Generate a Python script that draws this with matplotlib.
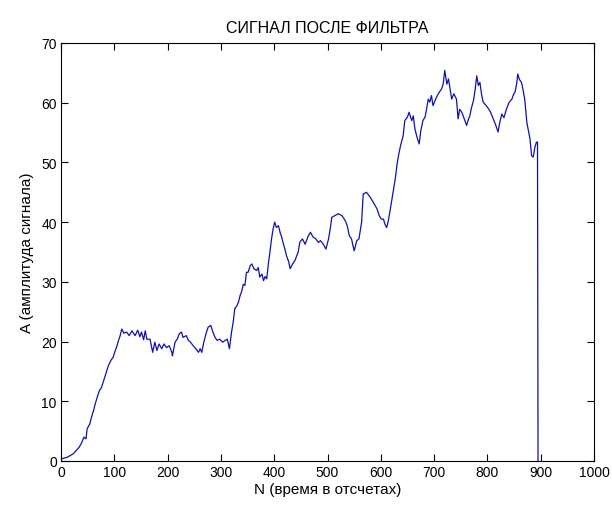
import matplotlib
matplotlib.use("Agg")
import matplotlib.pyplot as plt

plt.rcParams['font.family'] = ['Liberation Sans', 'DejaVu Sans']

# Filtered signal: sample index and amplitude
n_samples = [
    0, 6, 11, 17, 23, 28, 34, 39, 43, 47, 49, 54, 58, 61, 64, 68, 72, 76, 81,
    84, 89, 94, 98, 101, 104, 108, 111, 114,
    118, 123, 128, 133, 139, 144, 148, 151, 155, 158, 161,
    167, 172, 176, 180, 184, 189, 193, 198, 203, 208, 209, 214, 218, 222, 226,
    229, 235, 239, 243, 248, 253, 258, 261, 264, 268, 272, 276, 281, 285, 289,
    293, 298, 303, 308, 312, 316, 320, 323, 326,
    330, 333, 336, 339, 342, 345, 348, 351, 355, 358, 362, 367, 370, 373, 377,
    380, 383, 386, 389, 392, 395, 398, 401, 404, 408, 411, 414, 417, 420, 423,
    427, 430,
    434, 439, 445, 448, 453, 458, 464, 468, 473, 478, 483, 487, 492, 497, 502,
    506, 508, 514, 520, 527, 533, 537, 541, 545, 550, 555, 559, 564, 567, 573,
    580, 586, 593, 597,
    601, 605, 608, 611, 614, 617, 620, 623, 627, 631, 634,
    637, 642, 645, 650, 653, 658, 661, 664, 668, 672, 675, 679, 683, 686, 689,
    692, 695, 698, 702, 706, 710, 714, 717, 720, 724, 727, 730, 733, 737, 742,
    745,
    748, 752, 756, 761, 764, 767, 770, 774, 777, 780, 783, 786, 789, 792, 797,
    802, 806, 811, 815, 820, 823, 827, 831, 836, 841, 846, 849, 852, 855, 857,
    860, 864, 867, 870, 874, 877, 880, 883, 886, 889, 892, 894, 895,
]
amplitude = [
    0.3, 0.5, 0.6, 0.9, 1.2, 1.7, 2.3, 3.1, 4.0, 3.7, 5.4, 6.2, 7.6, 8.4, 9.5,
    10.7, 11.8, 12.3, 13.7, 14.6, 16.0, 16.9, 17.4, 18.3, 19.0, 20.2, 21.0, 22.1,
    21.4, 21.6, 21.0, 21.8, 21.0, 21.9, 20.8, 21.6, 20.3, 21.8, 20.4,
    20.4, 18.2, 19.9, 18.5, 19.6, 18.8, 19.6, 19.0, 19.3, 18.2, 17.6, 19.9, 20.4,
    21.3, 21.6, 20.7, 21.0, 20.2, 19.9, 19.3, 18.8, 18.2, 18.8, 18.2, 19.9, 21.3,
    22.4, 22.7, 21.6, 20.7, 20.2, 20.4, 19.9, 20.2, 20.4, 18.8, 21.6, 23.2, 25.5,
    26.0, 26.6, 27.7, 28.4, 29.6, 29.4, 31.6, 31.6, 32.7, 33.0, 32.2, 31.9, 32.4,
    30.8, 31.3, 30.2, 30.9, 30.5, 33.0, 35.0, 37.2, 38.9, 40.0, 39.1, 39.4, 38.3,
    37.5, 36.4, 35.5, 34.4, 33.4, 32.2,
    32.9, 33.6, 35.0, 36.6, 37.2, 36.3, 37.7, 38.3, 37.5, 37.2, 36.6, 36.9, 36.3,
    35.5, 37.2, 39.4, 40.8, 41.1, 41.4, 41.1, 40.3, 39.4, 37.7, 37.2, 35.2, 36.9,
    37.2, 40.0, 44.7, 45.0, 44.2, 43.3, 42.2, 41.1,
    40.5, 40.5, 39.6, 39.1, 40.2, 41.7, 43.4, 45.0, 47.2, 50.0, 51.5,
    52.8, 54.5, 57.0, 57.6, 58.4, 57.0, 57.8, 55.6, 54.2, 53.1, 55.3, 57.0, 57.6,
    59.0, 60.6, 60.1, 61.2, 59.5, 60.4, 61.2, 61.8, 62.3, 63.1, 65.4, 63.1, 64.0,
    62.3, 60.6, 61.5, 60.6, 57.3,
    58.9, 58.4, 57.4, 56.2, 57.1, 57.8, 59.1, 60.4, 62.2, 64.5, 62.9, 63.4, 61.4,
    60.1, 59.6, 59.0, 58.4, 57.3, 56.4, 55.1, 56.6, 58.1, 57.5, 59.0, 60.1, 60.6,
    61.4, 61.8, 63.2, 64.8, 63.9, 63.4, 62.1, 60.6, 56.7, 55.3, 53.9, 51.1, 50.9,
    52.5, 53.4, 53.4, 0.0,
]

x_ticks = [0, 100, 200, 300, 400, 500, 600, 700, 800, 900, 1000]
y_ticks = [0, 10, 20, 30, 40, 50, 60, 70]

fig = plt.figure(figsize=(6.12, 5.06), dpi=100)
ax = fig.add_axes([61 / 612, 44 / 506, 533 / 612, 418 / 506])

ax.plot(n_samples, amplitude, color='#1010b0', linewidth=0.9)

ax.set_xlim(0, 1000)
ax.set_ylim(0, 70)
ax.set_xticks(x_ticks)
ax.set_yticks(y_ticks)
ax.tick_params(direction='in', top=True, right=True, length=5, width=0.8,
               labelsize=10, pad=3)
for spine in ax.spines.values():
    spine.set_linewidth(0.8)

ax.set_title('СИГНАЛ ПОСЛЕ ФИЛЬТРА', fontsize=11.5, pad=8)
ax.set_xlabel('N (время в отсчетах)', fontsize=11, labelpad=2)
ax.set_ylabel('A (амплитуда сигнала)', fontsize=11, labelpad=5)

fig.savefig('out.png', dpi=100)
